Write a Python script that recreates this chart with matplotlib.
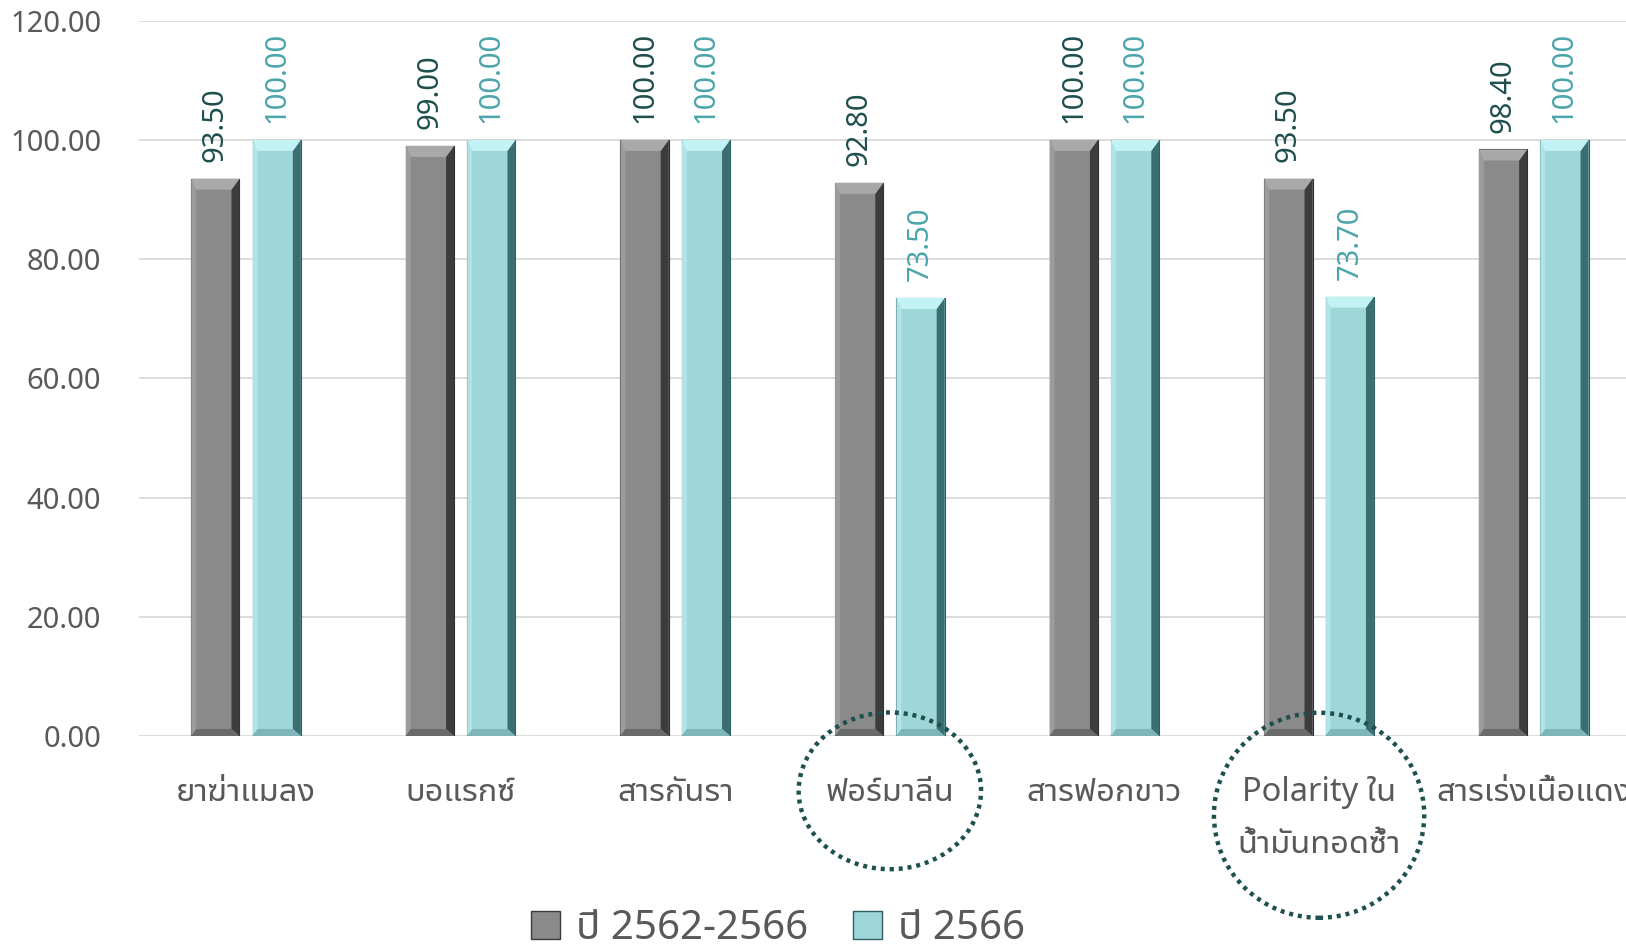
import matplotlib
matplotlib.use("Agg")
import matplotlib.pyplot as plt
from matplotlib.patches import Ellipse, Polygon, Patch

THAI = ['Noto Sans Thai UI', 'Noto Sans Thai', 'Noto Sans', 'DejaVu Sans']
NUM = ['Noto Sans', 'DejaVu Sans']
plt.rcParams['font.family'] = THAI

categories = ['ยาฆ่าแมลง', 'บอแรกซ์', 'สารกันรา', 'ฟอร์มาลีน', 'สารฟอกขาว',
              'Polarity ใน\nน้ำมันทอดซ้ำ', 'สารเร่งเนื้อแดง']
avg_5y = [93.50, 99.00, 100.00, 92.80, 100.00, 93.50, 98.40]
year_2566 = [100.00, 100.00, 100.00, 73.50, 100.00, 73.70, 100.00]
series_names = ['ปี 2562-2566', 'ปี 2566']
yticks = [0, 20, 40, 60, 80, 100, 120]
circled = [3, 5]

W, H = 1626, 946
fig = plt.figure(figsize=(W / 100, H / 100), dpi=100)
ax = fig.add_axes([138.7 / W, (H - 736) / H, (1641 - 138.7) / W, (736 - 20.7) / H])

ax.set_xlim(-0.5, len(categories) - 0.5)
ax.set_ylim(0, 120)
ax.set_yticks(yticks)
ax.set_yticklabels([f'{v:.2f}' for v in yticks], fontsize=21, color='#595959', family=NUM)
ax.set_xticks(range(len(categories)))
ax.set_xticklabels(categories, fontsize=23.5, color='#595959', linespacing=1.75)
ax.tick_params(length=0, pad=0)
ax.tick_params(axis='y', pad=27)
ax.tick_params(axis='x', pad=29)
for s in ax.spines.values():
    s.set_visible(False)
ax.grid(axis='y', color='#D9D9D9', linewidth=1.3)
ax.set_axisbelow(True)

bw = 0.225
off = 0.143
styles = [
    dict(face='#8A8A8A', light='#9C9C9C', top='#A9A9A9', dark='#3C3C3C', bot='#6A6A6A', edge='#2E2E2E', lab='#1F4E4E'),
    dict(face='#9ED6DA', light='#B2E4E7', top='#C3F2F5', dark='#3B6E70', bot='#7DB5B8', edge='#2E5E60', lab='#4BA5AA'),
]
bxl = 5 / 214.7   # left bevel, category units
bxr = 8 / 214.7   # right bevel
byt = 11 / 5.96   # top bevel, data units
byb = 7 / 5.96    # bottom bevel
for vals, st, sgn in zip([avg_5y, year_2566], styles, [-1, 1]):
    xs = [i + sgn * off for i in range(len(categories))]
    ax.bar(xs, vals, width=bw, color=st['face'], edgecolor=st['edge'], linewidth=0.8, zorder=2)
    for x, v in zip(xs, vals):
        l, r = x - bw / 2, x + bw / 2
        ax.add_patch(Polygon([(l, v), (l + bxl, v - byt), (l + bxl, byb), (l, 0)],
                             closed=True, color=st['light'], lw=0, zorder=3))
        ax.add_patch(Polygon([(r, v), (r - bxr, v - byt), (r - bxr, byb), (r, 0)],
                             closed=True, color=st['dark'], lw=0, zorder=3))
        ax.add_patch(Polygon([(l, 0), (l + bxl, byb), (r - bxr, byb), (r, 0)],
                             closed=True, color=st['bot'], lw=0, zorder=3))
        ax.add_patch(Polygon([(l, v), (r, v), (r - bxr, v - byt), (l + bxl, v - byt)],
                             closed=True, color=st['top'], lw=0, zorder=3))
        ax.annotate(f'{v:.2f}', (x, v), xytext=(0, 12), textcoords='offset points',
                    rotation=90, ha='center', va='bottom', fontsize=21,
                    color=st['lab'], family=NUM)

ell = {3: (-9.2, 0.85, 26.3), 5: (-13.3, 0.98, 34.4)}
for i in circled:
    cy, w, h = ell[i]
    ax.add_patch(Ellipse((i, cy), w, h, fill=False, edgecolor='#1F5050',
                         linewidth=3.2, linestyle=(0, (0.9, 1.1)), clip_on=False, zorder=5))

handles = [Patch(facecolor=styles[0]['face'], edgecolor='#3A3A3A', label=series_names[0]),
           Patch(facecolor=styles[1]['face'], edgecolor='#2E5E60', label=series_names[1])]
fig.legend(handles=handles, loc='center', bbox_to_anchor=(778 / W, (H - 929) / H), ncol=2,
           frameon=False, fontsize=29, labelcolor='#595959', handlelength=0.72,
           handleheight=0.72, handletextpad=0.4, columnspacing=1.1)

fig.savefig('out.png', dpi=100)
